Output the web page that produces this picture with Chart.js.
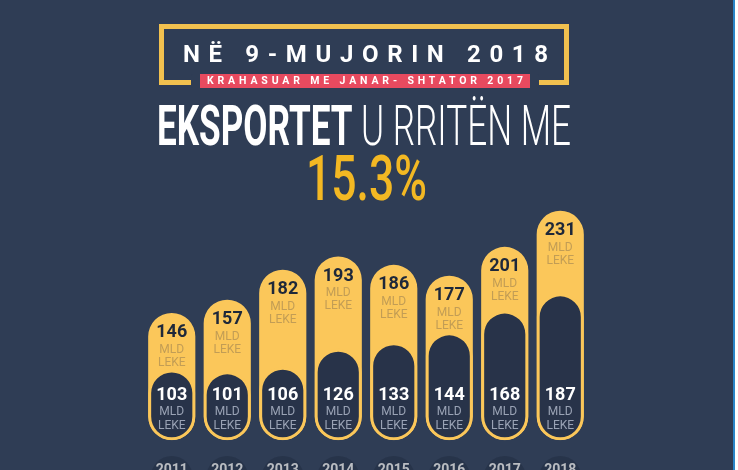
<!DOCTYPE html>
<html lang="sq">
<head>
<meta charset="utf-8">
<title>Eksportet 9-mujori 2018</title>
<script src="https://cdn.jsdelivr.net/npm/chart.js@4.4.1/dist/chart.umd.min.js"></script>
<style>
  html, body { margin: 0; padding: 0; width: 738px; height: 470px; overflow: hidden; background: #ffffff; font-family: Roboto, "Open Sans", sans-serif; }
  #faqja { position: absolute; left: 0; top: 0; width: 733px; height: 470px; background: #2f3d55; overflow: hidden; }
  #vija { position: absolute; left: 733px; top: 0; width: 2px; height: 470px; background: #2b86c8; }
  #korniza { position: absolute; left: 159px; top: 24px; width: 400px; height: 51px; border: 5px solid #f2c14f; }
  .tekst { position: absolute; white-space: nowrap; display: inline-block; transform-origin: 0 0; }
  #titulli { left: 183px; top: 42px; font-size: 24px; line-height: 24px; font-weight: 700; color: #ffffff; }
  #shiriti { position: absolute; left: 191px; top: 74px; width: 330px; height: 14px; background: #e84a5f; border-left: 9px solid #2f3d55; border-right: 9px solid #2f3d55; border-radius: 2px; }
  #krahasuar { left: 207px; top: 74px; font-size: 10.5px; line-height: 14px; font-weight: 700; color: #ffffff; }
  #rritja { left: 157px; top: 98px; font-size: 56px; line-height: 56px; color: #ffffff; }
  #rritja b { font-weight: 700; }
  #rritja span { font-weight: 300; }
  #perqindja { left: 306px; top: 147px; font-size: 63px; line-height: 63px; font-weight: 500; color: #f3b823; }
  #grafiku { position: absolute; left: 0; top: 0; }
</style>
</head>
<body>
<div id="faqja">
  <canvas id="grafiku" width="733" height="516"></canvas>
  <div id="korniza"></div>
  <div id="shiriti"></div>
  <div class="tekst" id="titulli">NË 9-MUJORIN 2018</div>
  <div class="tekst" id="krahasuar">KRAHASUAR ME JANAR- SHTATOR 2017</div>
  <div class="tekst" id="rritja"><b>EKSPORTET</b><span> U RRITËN ME</span></div>
  <div class="tekst" id="perqindja">15.3%</div>
</div>
<div id="vija"></div>

<script>
// te dhenat e grafikut
const vitet = ["2011", "2012", "2013", "2014", "2015", "2016", "2017", "2018"];
const shifratLarta = [146, 157, 182, 193, 186, 177, 201, 231];
const shifratUlta = [103, 101, 106, 126, 133, 144, 168, 187];
const njesia = ["MLD", "LEKE"];

const verdha = "#fbc75a";
const erreta = "#283349";

// hapesira mes shkronjave qe teksti te zere gjeresine e dhene
function hapesire(id, gjeresia) {
    const el = document.getElementById(id);
    const n = [...el.textContent].length;
    const w = el.getBoundingClientRect().width;
    el.style.letterSpacing = ((gjeresia - w) / (n - 1)) + "px";
}

// ngushtim horizontal i tekstit
function ngushto(id, gjeresia) {
    const el = document.getElementById(id);
    const w = el.getBoundingClientRect().width;
    el.style.transform = "scaleX(" + (gjeresia / w) + ")";
}

hapesire("titulli", 365);
hapesire("krahasuar", 316);
ngushto("rritja", 414);
ngushto("perqindja", 121);

// etiketat mbi shtyllat
const etiketat = {
    id: "etiketat",
    beforeDatasetsDraw(chart) {
        const ctx = chart.ctx;
        const shkalla = chart.scales.x;
        ctx.save();
        ctx.fillStyle = "rgba(24, 33, 50, 0.3)";
        vitet.forEach((v, i) => {
            ctx.beginPath();
            ctx.arc(shkalla.getPixelForValue(i), 477, 21, 0, Math.PI * 2);
            ctx.fill();
        });
        ctx.restore();
    },
    afterDatasetsDraw(chart) {
        const ctx = chart.ctx;
        const larta = chart.getDatasetMeta(1).data;
        const fundi = chart.chartArea.bottom;
        ctx.save();
        ctx.textAlign = "center";
        ctx.textBaseline = "middle";
        larta.forEach((bar, i) => {
            ctx.fillStyle = "#1e283a";
            ctx.font = "bold 18px Roboto";
            ctx.fillText(shifratLarta[i], bar.x, bar.y + 20);
            ctx.fillStyle = "#c29d55";
            ctx.font = "12px Roboto";
            ctx.fillText(njesia[0], bar.x, bar.y + 37);
            ctx.fillText(njesia[1], bar.x, bar.y + 50);

            ctx.fillStyle = "#ffffff";
            ctx.font = "bold 18px Roboto";
            ctx.fillText(shifratUlta[i], bar.x, fundi - 45);
            ctx.fillStyle = "#9aa3b5";
            ctx.font = "12px Roboto";
            ctx.fillText(njesia[0], bar.x, fundi - 28);
            ctx.fillText(njesia[1], bar.x, fundi - 14);
        });
        ctx.restore();
    }
};

const config = {
    type: "bar",
    data: {
        labels: vitet,
        datasets: [{
            data: shifratUlta,
            yAxisID: "y2",
            base: 25,
            backgroundColor: erreta,
            borderColor: verdha,
            borderWidth: 3,
            borderRadius: 24,
            borderSkipped: false,
            grouped: false,
            barPercentage: 0.85,
            categoryPercentage: 1,
            order: 0
        }, {
            data: shifratLarta,
            yAxisID: "y",
            base: 40,
            backgroundColor: verdha,
            borderRadius: 24,
            borderSkipped: false,
            grouped: false,
            barPercentage: 0.85,
            categoryPercentage: 1,
            order: 1
        }]
    },
    options: {
        responsive: false,
        devicePixelRatio: 1,
        animation: false,
        layout: { padding: { left: 144, right: 145, top: 200, bottom: 15 } },
        plugins: { legend: { display: false }, tooltip: { enabled: false } },
        scales: {
            x: {
                grid: { display: false, drawTicks: false },
                border: { display: false },
                ticks: { color: "#ffffff", padding: 22, font: { family: "Roboto", size: 14, weight: "bold" } }
            },
            y: { display: false, beginAtZero: false, min: 40, max: 240 },
            y2: { display: false, beginAtZero: false, min: 25, max: 290 }
        }
    },
    plugins: [etiketat]
};

new Chart(document.getElementById("grafiku").getContext("2d"), config);
</script>
</body>
</html>
